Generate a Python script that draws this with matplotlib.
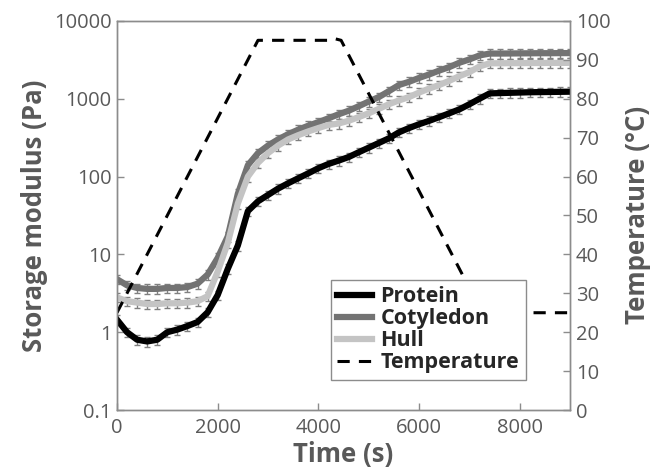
import numpy as np
import matplotlib
matplotlib.use("Agg")
import matplotlib.pyplot as plt
from matplotlib.ticker import FixedLocator, NullLocator

# time axis of the modulus readings (s)
time_s = [0, 200, 400, 600, 800, 1000, 1200, 1400, 1600, 1800,
          2000, 2200, 2400, 2600, 2800, 3000, 3200, 3400, 3600, 3800,
          4000, 4200, 4400, 4600, 4800, 5000, 5200, 5400, 5600, 5800,
          6000, 6200, 6400, 6600, 6800, 7000, 7200, 7400, 7600, 7800,
          8000, 8200, 8400, 8600, 8800, 9000]

protein = [1.45, 1.0, 0.80, 0.76, 0.80, 1.0, 1.08, 1.2, 1.35, 1.8,
           3.0, 6.5, 13, 36, 48, 58, 70, 82, 95, 110,
           128, 145, 160, 178, 205, 235, 270, 310, 370, 420,
           470, 520, 580, 650, 730, 850, 1000, 1170, 1180, 1190,
           1200, 1210, 1215, 1220, 1225, 1230]

cotyledon = [4.8, 4.0, 3.7, 3.6, 3.6, 3.7, 3.7, 3.8, 4.2, 5.5,
             9, 17, 60, 140, 200, 250, 300, 350, 400, 450,
             500, 560, 630, 700, 800, 920, 1050, 1250, 1500, 1650,
             1850, 2050, 2300, 2550, 2900, 3200, 3600, 3800, 3800, 3810,
             3820, 3830, 3840, 3840, 3850, 3850]

hull = [2.8, 2.5, 2.4, 2.3, 2.3, 2.35, 2.35, 2.4, 2.5, 2.9,
        6.0, 14, 45, 100, 150, 200, 250, 300, 340, 380,
        420, 460, 480, 520, 580, 650, 740, 850, 950, 1050,
        1200, 1350, 1500, 1700, 1950, 2200, 2600, 2850, 2850, 2860,
        2860, 2870, 2870, 2880, 2880, 2890]

# relative standard deviation shown by the error bars
protein_rel_err = 0.14
cotyledon_rel_err = 0.14
hull_rel_err = 0.14

# temperature programme
temp_time = [0, 2800, 4200, 4300, 4450, 7250, 9000]
temp_c = [25, 95, 95, 95.5, 95, 25, 25]

FONT = ["Open Sans", "DejaVu Sans"]
GREY_TXT = "#595959"
SPINE = "#8c8c8c"


def main():
    plt.rcParams["font.family"] = FONT
    fig = plt.figure(figsize=(6.57, 4.74), dpi=100)
    ax = fig.add_axes([0.178, 0.135, 0.690, 0.821])
    ax2 = ax.twinx()

    series = [
        ("Protein", protein, protein_rel_err, "black"),
        ("Cotyledon", cotyledon, cotyledon_rel_err, "#737373"),
        ("Hull", hull, hull_rel_err, "#c4c4c4"),
    ]

    t = np.array(time_s)
    handles = []
    # error bars first so the lines sit on top
    for name, vals, rel, col in series:
        v = np.array(vals)
        ax.errorbar(t, v, yerr=v * rel, fmt="none", ecolor="#808080",
                    elinewidth=1.0, capsize=2.5, capthick=1.0, zorder=2)
    for name, vals, rel, col in series:
        h, = ax.plot(t, vals, color=col, lw=4.5, label=name, zorder=3,
                     solid_joinstyle="round")
        handles.append(h)

    ht, = ax2.plot(temp_time, temp_c, color="black", lw=2.2,
                   ls=(0, (4, 3)), label="Temperature")
    handles.append(ht)

    ax.set_yscale("log")
    ax.set_xlim(0, 9000)
    ax.set_ylim(0.1, 10000)
    ax2.set_ylim(0, 100)
    ax.set_xticks([0, 2000, 4000, 6000, 8000])
    ax.yaxis.set_major_locator(FixedLocator([0.1, 1, 10, 100, 1000, 10000]))
    ax.yaxis.set_minor_locator(NullLocator())
    ax.set_yticklabels(["0.1", "1", "10", "100", "1000", "10000"])
    ax2.set_yticks(range(0, 101, 10))

    for a in (ax, ax2):
        for s in a.spines.values():
            s.set_color(SPINE)
            s.set_linewidth(1.0)
        a.tick_params(direction="in", length=5, width=1, color=SPINE,
                      labelsize=14.5, labelcolor=GREY_TXT, pad=4)
    ax.tick_params(axis="x", pad=6)

    ax.set_xlabel("Time (s)", fontsize=18.5, fontweight="bold",
                  color=GREY_TXT, labelpad=2)
    ax.set_ylabel("Storage modulus (Pa)", fontsize=18.5, fontweight="bold",
                  color=GREY_TXT, labelpad=4)
    ax2.set_ylabel("Temperature (°C)", fontsize=18.5, fontweight="bold",
                   color=GREY_TXT, labelpad=10)

    ax2.set_zorder(ax.get_zorder() + 1)
    ax2.patch.set_visible(False)

    leg = ax2.legend(handles=handles, loc="lower right",
                     bbox_to_anchor=(0.925, 0.05), fancybox=False,
                     framealpha=1, edgecolor=SPINE, handlelength=1.6,
                     handletextpad=0.4, labelspacing=0.05, borderpad=0.3,
                     prop={"family": FONT, "weight": "bold", "size": 15.5})
    leg.get_frame().set_linewidth(1.0)
    for txt in leg.get_texts():
        txt.set_color("#262626")

    fig.savefig("out.png", dpi=100)


if __name__ == "__main__":
    main()
